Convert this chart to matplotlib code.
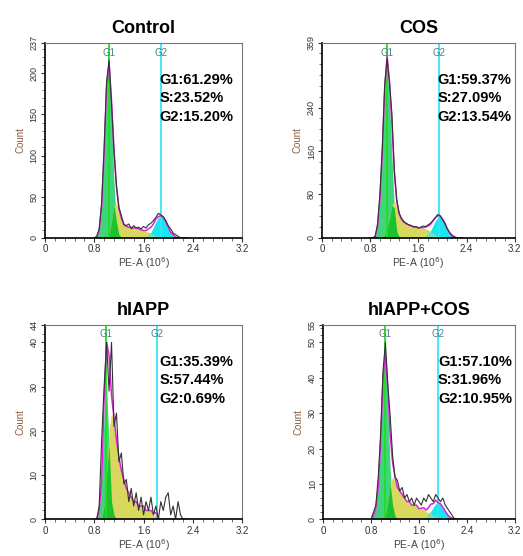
import numpy as np
import matplotlib.pyplot as plt
from matplotlib.ticker import MultipleLocator

plt.rcParams['font.family'] = ['Liberation Sans', 'DejaVu Sans']

# PE-A channel (10^6), same bins for all panels
pe = [0.80, 0.84, 0.88, 0.92, 0.96, 1.00, 1.04, 1.08, 1.12, 1.16,
      1.20, 1.24, 1.28, 1.32, 1.36, 1.40, 1.44, 1.48, 1.52, 1.56,
      1.60, 1.64, 1.68, 1.72, 1.76, 1.80, 1.84, 1.88, 1.92, 1.96,
      2.00, 2.04, 2.08, 2.12, 2.16, 2.20, 2.24, 2.28, 2.32]

# Control
ctrl_counts = [0, 2, 11, 43, 108, 190, 216, 163, 104, 64,
               37, 27, 16, 15, 17, 11, 15, 12, 13, 11,
               14, 12, 16, 18, 21, 25, 30, 28, 26, 21,
               15, 11, 6, 4, 2, 0, 0, 0, 0]
ctrl_g1 = [0, 1, 9, 39, 105, 184, 210, 147, 68, 20,
           4, 1, 0, 0, 0, 0, 0, 0, 0, 0,
           0, 0, 0, 0, 0, 0, 0, 0, 0, 0,
           0, 0, 0, 0, 0, 0, 0, 0, 0]
ctrl_s = [0, 0, 0, 0, 0, 0, 2, 20, 40, 42,
          32, 23, 17, 14, 13, 13, 12, 12, 11, 10,
          9, 8, 7, 6, 4, 3, 1, 0, 0, 0,
          0, 0, 0, 0, 0, 0, 0, 0, 0]
ctrl_g2 = [0, 0, 0, 0, 0, 0, 0, 0, 0, 0,
           0, 0, 0, 0, 0, 0, 0, 0, 0, 0,
           0, 1, 4, 7, 13, 20, 25, 27, 25, 20,
           13, 7, 4, 1, 0, 0, 0, 0, 0]

# COS
cos_counts = [0, 0, 3, 25, 80, 165, 283, 330, 286, 228,
              122, 70, 46, 36, 30, 27, 24, 23, 20, 21,
              18, 20, 22, 21, 24, 27, 32, 37, 43, 41,
              34, 27, 17, 10, 5, 2, 0, 0, 0]
cos_g1 = [0, 0, 2, 20, 70, 160, 270, 315, 250, 150,
          55, 12, 2, 0, 0, 0, 0, 0, 0, 0,
          0, 0, 0, 0, 0, 0, 0, 0, 0, 0,
          0, 0, 0, 0, 0, 0, 0, 0, 0]
cos_s = [0, 0, 0, 0, 0, 0, 5, 20, 35, 60,
         68, 56, 42, 34, 29, 26, 24, 22, 21, 20,
         19, 19, 18, 17, 15, 12, 9, 6, 3, 1,
         0, 0, 0, 0, 0, 0, 0, 0, 0]
cos_g2 = [0, 0, 0, 0, 0, 0, 0, 0, 0, 0,
          0, 0, 0, 0, 0, 0, 0, 0, 0, 0,
          0, 0, 1, 3, 7, 13, 22, 31, 38, 40,
          35, 27, 17, 9, 4, 2, 0, 0, 0]

# hIAPP
hiapp_counts = [0, 0, 3, 18, 30, 40, 29, 40, 21, 24,
                13, 15, 8, 9, 4, 7, 3, 6, 2, 5,
                1, 4, 2, 5, 1, 3, 0, 4, 2, 5,
                6, 1, 3, 0, 4, 1, 0, 0, 0]
hiapp_g1 = [0, 0, 2, 9, 24, 30, 17, 4, 1, 0,
            0, 0, 0, 0, 0, 0, 0, 0, 0, 0,
            0, 0, 0, 0, 0, 0, 0, 0, 0, 0,
            0, 0, 0, 0, 0, 0, 0, 0, 0]
hiapp_s = [0, 0, 0, 0, 3, 10, 20, 24, 22, 18,
           14, 11, 9, 7, 6, 5, 4, 4, 3, 3,
           3, 2, 2, 2, 1, 1, 0, 0, 0, 0,
           0, 0, 0, 0, 0, 0, 0, 0, 0]
hiapp_g2 = [0, 0, 0, 0, 0, 0, 0, 0, 0, 0,
            0, 0, 0, 0, 0, 0, 0, 0, 0, 0,
            0, 0, 0, 0, 0.3, 0.5, 0.3, 0, 0, 0,
            0, 0, 0, 0, 0, 0, 0, 0, 0]

# hIAPP+COS
hcos_counts = [0, 2, 4, 12, 24, 42, 50, 38, 29, 18,
               12, 11, 8, 9, 6, 7, 5, 6, 4, 6,
               5, 4, 6, 5, 7, 6, 5, 7, 6, 5,
               6, 4, 3, 2, 1, 0, 0, 0, 0]
hcos_g1 = [0, 1, 3, 9, 22, 40, 46, 32, 14, 4,
           1, 0, 0, 0, 0, 0, 0, 0, 0, 0,
           0, 0, 0, 0, 0, 0, 0, 0, 0, 0,
           0, 0, 0, 0, 0, 0, 0, 0, 0]
hcos_s = [0, 0, 0, 0, 0, 0, 1, 5, 10, 12,
          11, 9, 8, 7, 6, 5, 5, 4, 4, 4,
          3, 3, 3, 2, 2, 2, 1, 1, 0, 0,
          0, 0, 0, 0, 0, 0, 0, 0, 0]
hcos_g2 = [0, 0, 0, 0, 0, 0, 0, 0, 0, 0,
           0, 0, 0, 0, 0, 0, 0, 0, 0, 0,
           0, 0.1, 0.3, 0.6, 1.3, 2.3, 3.4, 4.4, 4.7, 4.4,
           3.4, 2.3, 1.3, 0.6, 0.3, 0.1, 0, 0, 0]

titles = ['Control', 'COS', 'hIAPP', 'hIAPP+COS']
g1_pct = ['61.29', '59.37', '35.39', '57.10']
s_pct = ['23.52', '27.09', '57.44', '31.96']
g2_pct = ['15.20', '13.54', '0.69', '10.95']
y_top = [237, 359, 44, 55]
y_ticks = [[0, 50, 100, 150, 200, 237],
           [0, 80, 160, 240, 359],
           [0, 10, 20, 30, 40, 44],
           [0, 10, 20, 30, 40, 50, 55]]
y_minor = [10, 20, 2, 2]
g1_gate = [1.04, 1.075, 0.99, 1.04]
g2_gate = [1.88, 1.95, 1.81, 1.925]
x_ticks = [0, 0.8, 1.6, 2.4, 3.2]

panels = [(ctrl_counts, ctrl_g1, ctrl_s, ctrl_g2),
          (cos_counts, cos_g1, cos_s, cos_g2),
          (hiapp_counts, hiapp_g1, hiapp_s, hiapp_g2),
          (hcos_counts, hcos_g1, hcos_s, hcos_g2)]

boxes = [[0.086, 0.572, 0.377, 0.351],
         [0.616, 0.572, 0.368, 0.351],
         [0.086, 0.066, 0.377, 0.350],
         [0.618, 0.066, 0.366, 0.350]]

fig = plt.figure(figsize=(5.23, 5.56), dpi=100)
x = np.array(pe)

for i in range(4):
    counts, g1, s, g2 = [np.array(a, dtype=float) for a in panels[i]]
    ax = fig.add_axes(boxes[i])

    ax.fill_between(x, 0, g1, color='#40d47c', lw=0)
    ax.fill_between(x, 0, s, color='#d8d85e', lw=0)
    ax.fill_between(x, 0, g2, color='#1ae6f2', lw=0)
    ax.fill_between(x, 0, np.minimum(g1, s), color='#1cc22c', lw=0)
    ax.fill_between(x, 0, np.minimum(s, g2), color='#74e0b4', lw=0)

    ax.axvline(g1_gate[i], color='#22dd22', lw=1.3)
    ax.axvline(g2_gate[i], color='#33e6f6', lw=1.3)
    ax.text(g1_gate[i], 0.95, 'G1', transform=ax.get_xaxis_transform(),
            ha='center', va='center', fontsize=7, color='#4f7f8c')
    ax.text(g2_gate[i], 0.95, 'G2', transform=ax.get_xaxis_transform(),
            ha='center', va='center', fontsize=7, color='#4f7f8c')

    ax.plot(x, g1 + s + g2, color='#e020e0', lw=1.1)
    ax.plot(x, counts, color='#333333', lw=0.8)

    txt_x = 0.58 if i in (0, 2) else 0.60
    ax.text(txt_x, 0.81, 'G1:' + g1_pct[i] + '%', transform=ax.transAxes,
            fontsize=10.5, fontweight='bold', va='center')
    ax.text(txt_x, 0.715, 'S:' + s_pct[i] + '%', transform=ax.transAxes,
            fontsize=10.5, fontweight='bold', va='center')
    ax.text(txt_x, 0.62, 'G2:' + g2_pct[i] + '%', transform=ax.transAxes,
            fontsize=10.5, fontweight='bold', va='center')

    ax.set_xlim(0, 3.2)
    ax.set_ylim(0, y_top[i])
    ax.set_xticks(x_ticks)
    ax.set_xticklabels(['0', '0.8', '1.6', '2.4', '3.2'])
    ax.set_yticks(y_ticks[i])
    ax.xaxis.set_minor_locator(MultipleLocator(0.16))
    ax.yaxis.set_minor_locator(MultipleLocator(y_minor[i]))
    ax.tick_params(axis='both', which='major', length=3, width=0.8,
                   labelsize=7, colors='#333333', pad=1.5)
    ax.tick_params(axis='both', which='minor', length=2, width=0.6, colors='#555555')
    ax.tick_params(axis='y', labelrotation=90, labelsize=6.5)
    for lab in ax.get_yticklabels():
        lab.set_va('center')

    ax.spines['left'].set_linewidth(1.2)
    ax.spines['bottom'].set_linewidth(1.2)
    ax.spines['top'].set_color('#777777')
    ax.spines['right'].set_color('#777777')
    ax.spines['top'].set_linewidth(0.8)
    ax.spines['right'].set_linewidth(0.8)

    ax.set_xlabel('PE-A (10$^6$)', fontsize=7.5, color='#444444', labelpad=1)
    ax.set_ylabel('Count', fontsize=7, color='#8a5a3a', labelpad=3)
    ax.set_title(titles[i], fontsize=13, fontweight='bold', pad=7)

fig.savefig('out.png', dpi=100)
